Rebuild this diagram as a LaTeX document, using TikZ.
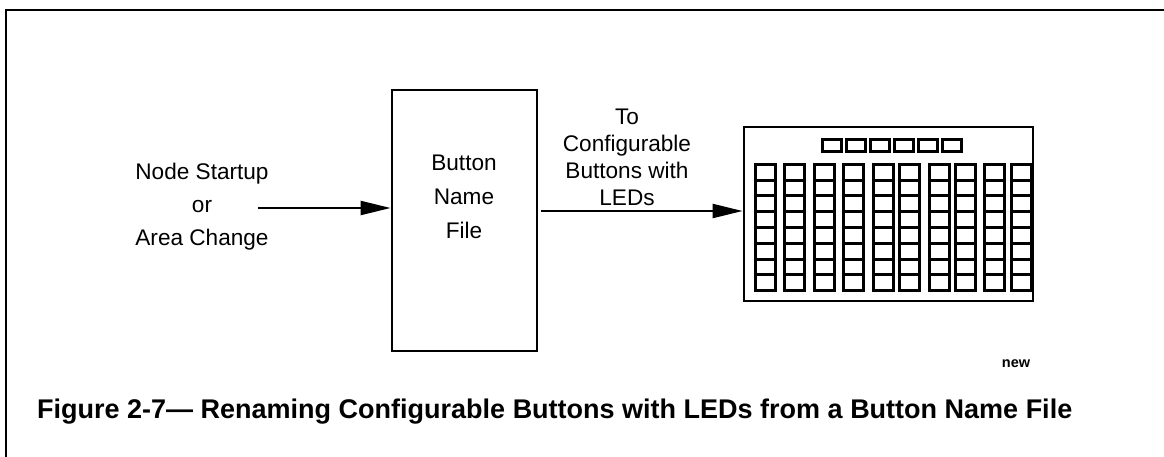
\documentclass[tikz,border=0pt]{standalone}
\usepackage{fontspec}
\setmainfont{Liberation Sans}
\usetikzlibrary{arrows.meta}
\begin{document}
\begin{tikzpicture}[x=1pt,y=-1pt,
  lbl/.style={inner sep=0pt,align=center,font=\fontsize{22.6}{33}\selectfont},
  frameline/.style={line width=2.8pt},
  boxline/.style={draw,line width=2.8pt,inner sep=0pt},
  cell/.style={draw,line width=3pt},
  arr/.style={line width=2.2pt,-{Triangle[length=30pt,width=14pt]}}]
\useasboundingbox (0,0) rectangle (1164,457);
% page frame: top and left rules
\draw[frameline] (5,10) -- (1164,10);
\draw[frameline] (6,9) -- (6,457);
% input event label
\node[lbl] (src) at (202,207) {Node Startup\\or\\Area Change};
\coordinate (a1s) at (258,208);
% button name file block
\node[boxline,minimum width=145pt,minimum height=261pt] (bnf) at (464.5,220.5) {};
\node[lbl,font=\fontsize{22.6}{34}\selectfont] (bnflbl) at (464,197) {Button\\Name\\File};
\draw[arr] (a1s) -- (a1s -| bnf.west);
% output label
\node[lbl,font=\fontsize{22.6}{27}\selectfont] (dst) at (627,157) {To\\Configurable\\Buttons with\\LEDs};
\coordinate (a2s) at (541,211);
% LED button panel
\node[boxline,minimum width=289pt,minimum height=174pt] (panel) at (888.5,214) {};
\draw[arr] (a2s) -- (a2s -| panel.west);
% display row
\foreach \i in {0,...,5}
  \draw[cell] ({822.5+24*\i},139.5) rectangle ++(19,12);
% button matrix: 10 columns of 8 stacked keys
\foreach \cx in {754,783,813,842,872,898,928,954,983,1010}
  \foreach \r in {0,...,7}
    \draw[cell] ({\cx+1.5},{164.5+15.75*\r}) rectangle ++(20,15.75);
% tag and caption
\node[inner sep=0pt,font=\bfseries\fontsize{14.5}{16}\selectfont] (tag) at (1016,364) {new};
\node[anchor=west,inner sep=0pt,font=\bfseries\fontsize{27}{30}\selectfont] (cap) at (37,412)
  {Figure 2-7— Renaming Configurable Buttons with LEDs from a Button Name File};
\end{tikzpicture}
\end{document}
